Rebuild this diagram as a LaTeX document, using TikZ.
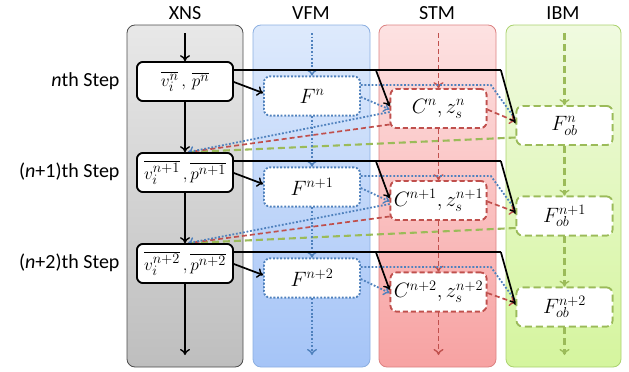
\documentclass[tikz,border=0pt]{standalone}
\usepackage{fontspec}
\setmainfont{Carlito}
\usetikzlibrary{arrows.meta}
\definecolor{blueL}{HTML}{4F81BD}
\definecolor{redL}{HTML}{C0504D}
\definecolor{greenL}{HTML}{9BBB59}
\begin{document}
\begin{tikzpicture}[x=1pt,y=-1pt,
  lab/.style={font=\fontsize{20}{24}\selectfont},
  lane/.style={rounded corners=8pt, line width=0.8pt},
  bx/.style={fill=white, rounded corners=6pt, minimum width=96pt, minimum height=39pt, inner sep=0pt, line width=1.7pt, font=\fontsize{21}{24}\selectfont},
  xbox/.style={bx, draw=black, font=\fontsize{19}{22}\selectfont},
  fbox/.style={bx, draw=blueL, dash pattern=on 1.8pt off 1.8pt},
  cbox/.style={bx, draw=redL, dash pattern=on 5pt off 3pt, font=\fontsize{20}{22}\selectfont},
  bbox/.style={bx, draw=greenL, dash pattern=on 7pt off 4pt},
  tip/.style={-{To[length=6pt,width=10pt,line width=1.4pt]}},
  blk/.style={draw=black, line width=1.7pt},
  blu/.style={draw=blueL, line width=1.8pt, dash pattern=on 1.8pt off 1.8pt},
  rdl/.style={draw=redL, line width=1.7pt, dash pattern=on 5pt off 3pt},
  grl/.style={draw=greenL, line width=2.1pt, dash pattern=on 7pt off 4pt}
]
\useasboundingbox (0,0) rectangle (629,372);
% lanes
\draw[lane, draw=black!70, top color={rgb,255:red,232;green,232;blue,232}, bottom color={rgb,255:red,190;green,190;blue,190}] (127,25) rectangle (243,367);
\draw[lane, draw={rgb,255:red,140;green,175;blue,225}, top color={rgb,255:red,222;green,234;blue,252}, bottom color={rgb,255:red,165;green,196;blue,247}] (253,25) rectangle (370,367);
\draw[lane, draw={rgb,255:red,220;green,130;blue,130}, top color={rgb,255:red,253;green,226;blue,226}, bottom color={rgb,255:red,247;green,162;blue,162}] (379,25) rectangle (496,367);
\draw[lane, draw={rgb,255:red,170;green,210;blue,110}, top color={rgb,255:red,240;green,250;blue,224}, bottom color={rgb,255:red,213;green,245;blue,158}] (506,25) rectangle (621,367);
% titles
\node[lab] (tX) at (185,13) {XNS};
\node[lab] (tF) at (311,13) {VFM};
\node[lab] (tC) at (437,13) {STM};
\node[lab] (tB) at (563,13) {IBM};
% step labels
\node[lab, anchor=east] (s0) at (123,81) {\textit{n}th Step};
\node[lab, anchor=east] (s1) at (123,172) {(\textit{n}+1)th Step};
\node[lab, anchor=east] (s2) at (123,263) {(\textit{n}+2)th Step};
% boxes (placed first, redrawn later on top)
\path
  (185,81.5) node[xbox] (X0) {}
  (185,172.5) node[xbox] (X1) {}
  (185,263.5) node[xbox] (X2) {}
  (312,96) node[fbox] (F0) {}
  (312,187) node[fbox] (F1) {}
  (312,278) node[fbox] (F2) {}
  (438.5,108.5) node[cbox] (C0) {}
  (438.5,200.5) node[cbox] (C1) {}
  (438.5,292) node[cbox] (C2) {}
  (564.5,125.5) node[bbox] (B0) {}
  (564.5,216) node[bbox] (B1) {}
  (564.5,307) node[bbox] (B2) {};
% lane end points
\coordinate (Xt) at (185,33); \coordinate (Xb) at (185,355);
\coordinate (Ft) at (312,33); \coordinate (Fb) at (312,355);
\coordinate (Ct) at (438.5,33); \coordinate (Cb) at (438.5,355);
\coordinate (Bt) at (564.5,33); \coordinate (Bb) at (564.5,355);
% feedback lines
\foreach \k/\n in {0/1,1/2}{
  \draw[grl] ([yshift=-12pt]B\k.west) -- ([xshift=3pt]X\n.north);
  \draw[rdl] ([yshift=-16pt]C\k.west) -- ([xshift=3pt]X\n.north);
  \draw[blu,tip] ([yshift=-3.5pt]C\k.west) -- ([xshift=3pt]X\n.north);
}
% vertical flows
\draw[blk,tip] (Xt) -- (X0.north);
\draw[blk,tip] (X0.south) -- (X1.north);
\draw[blk,tip] (X1.south) -- (X2.north);
\draw[blk,tip] (X2.south) -- (Xb);
\draw[blu,tip] (Ft) -- (F0.north);
\draw[blu,tip] (F0.south) -- (F1.north);
\draw[blu,tip] (F1.south) -- (F2.north);
\draw[blu,tip] (F2.south) -- (Fb);
\draw[rdl,tip] (Ct) -- (C0.north);
\draw[rdl,tip] (C0.south) -- (C1.north);
\draw[rdl,tip] (C1.south) -- (C2.north);
\draw[rdl,tip] (C2.south) -- (Cb);
\draw[grl,tip] (Bt) -- (B0.north);
\draw[grl,tip] (B0.south) -- (B1.north);
\draw[grl,tip] (B1.south) -- (B2.north);
\draw[grl,tip] (B2.south) -- (Bb);
% per-row connectors
\foreach \k in {0,1,2}{
  \draw[blu] ([yshift=11pt]F\k.east) -- ([xshift=130pt,yshift=11pt]F\k.east) -- ([yshift=6pt]B\k.west);
  \draw[blu,tip] ([yshift=-1pt]F\k.east) -- ([yshift=-1pt]C\k.west);
  \draw[rdl,tip] ([yshift=-1pt]C\k.east) -- ([yshift=4pt]B\k.west);
  \draw[blk,tip] ([yshift=-0.5pt]X\k.east) -- ([yshift=3pt]F\k.west);
  \draw[blk] ([yshift=11.5pt]X\k.east) -- ([xshift=267pt,yshift=11.5pt]X\k.east);
  \draw[blk,tip] ([xshift=267pt,yshift=11.5pt]X\k.east) -- ([yshift=2pt]B\k.west);
  \draw[blk,tip] ([xshift=142pt,yshift=11.5pt]X\k.east) -- ([yshift=2pt]C\k.west);
}
% boxes with text on top
\node[xbox] at (X0) {$\overline{v_i^{n}}\,,\,\overline{p^{n}}$};
\node[xbox] at (X1) {$\overline{v_i^{n+1}}\,,\overline{p^{n+1}}$};
\node[xbox] at (X2) {$\overline{v_i^{n+2}}\,,\overline{p^{n+2}}$};
\node[fbox] at (F0) {$F^{n}$};
\node[fbox] at (F1) {$F^{n+1}$};
\node[fbox] at (F2) {$F^{n+2}$};
\node[cbox] at (C0) {$C^{n},z_s^{n}$};
\node[cbox] at (C1) {$C^{n+1},z_s^{n+1}$};
\node[cbox] at (C2) {$C^{n+2},z_s^{n+2}$};
\node[bbox] at (B0) {$F_{ob}^{n}$};
\node[bbox] at (B1) {$F_{ob}^{n+1}$};
\node[bbox] at (B2) {$F_{ob}^{n+2}$};
\end{tikzpicture}
\end{document}
